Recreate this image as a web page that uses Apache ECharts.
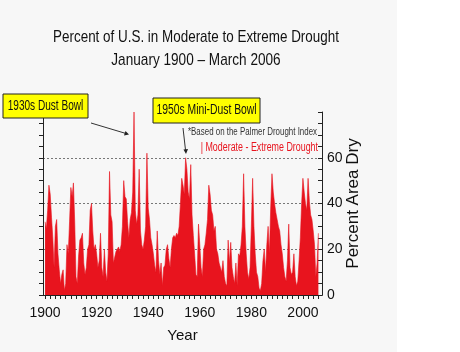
<!DOCTYPE html>
<html><head><meta charset="utf-8">
<script src="https://cdn.jsdelivr.net/npm/echarts@6/dist/echarts.min.js"></script>
<style>html,body{margin:0;padding:0;background:#fff}#c{width:460px;height:352px}</style>
</head><body><div id="c"></div>
<script>
// Percent area in moderate-to-extreme drought, sampled every half year from Jan 1900
const firstYear = 1900;
const stepYears = 0.5;
const pctArea = [
 32,29, 37,48, 44,34, 25,12, 30,33, 18,11, 5,9, 11,2, 5,22, 18,32,
 47,43, 49,32, 8,5, 17,24, 25,27, 14,9, 12,20, 22,37, 40,28, 20,22,
 18,12, 15,27, 12,8, 20,10, 6,18, 54,35, 32,14, 14,19, 20,21, 19,22,
 30,50, 43,42, 32,25, 33,36, 45,80, 37,31, 35,55, 28,22, 20,24, 30,62,
 38,33, 25,22, 18,13, 10,28, 15,9, 14,4, 12,13, 20,22, 16,12, 20,25,
 26,25, 27,26, 30,40, 51,48, 44,60, 55,45, 42,57, 35,26, 18,9, 8,31,
 22,12, 8,20, 22,27, 33,48, 44,37, 35,28, 30,20, 18,14, 12,10, 15,8,
 5,4, 24,14, 23,12, 8,5, 14,4, 18,17, 22,30, 53,30, 18,10, 7,12,
 30,51, 30,18, 10,8, 3,2, 5,15, 20,10, 22,30, 18,38, 53,45, 40,36,
 33,30, 28,22, 18,12, 8,6, 15,31, 12,9, 10,18, 8,4, 6,15, 25,40,
 51,45, 40,37, 51,41, 35,33, 28,22, 8,14, 27
];
const xTickLabels = [1900, 1920, 1940, 1960, 1980, 2000];
const yTickLabels = [0, 20, 40, 60];
const titleLines = ['Percent of U.S. in Moderate to Extreme Drought', 'January 1900 \u2013 March 2006'];

const xMinorTicks = [];
for (let y = 1900; y <= 2006; y += 2) xMinorTicks.push(y);
const seriesData = pctArea.map((v, i) => [firstYear + i * stepYears, v]);

const FONT = "'Liberation Sans',Arial,sans-serif";
const RED = '#e8141e';
const chart = echarts.init(document.getElementById('c'), null, {renderer: 'canvas'});
const axisCommon = {type: 'value', min: 1899.2, max: 2007.4};
function label(text, x, y, size, sx, color, align, z) {
  return {type: 'text', x: x, y: y, scaleX: sx, scaleY: 1, z: z || 10,
    style: {text: text, fill: color, font: size + 'px ' + FONT, textAlign: align, textVerticalAlign: 'middle'}};
}
chart.setOption({
  animation: false,
  backgroundColor: '#ffffff',
  grid: {left: 43, right: 138, top: 112, bottom: 57},
  xAxis: [
    Object.assign({}, axisCommon, {
      position: 'bottom', name: 'Year', nameLocation: 'middle', nameGap: 33,
      nameTextStyle: {fontFamily: FONT, fontSize: 15, color: '#111'},
      axisLine: {lineStyle: {color: '#222', width: 1}},
      axisTick: {show: true, inside: false, length: 4, customValues: xMinorTicks, lineStyle: {color: '#222'}},
      axisLabel: {customValues: xTickLabels, margin: 11, fontFamily: FONT, fontSize: 14, color: '#111',
        formatter: v => String(v)},
      splitLine: {show: false}
    }),
    Object.assign({}, axisCommon, {
      position: 'top',
      axisLine: {lineStyle: {color: '#222', width: 1}},
      axisTick: {show: true, inside: true, length: 4, customValues: xMinorTicks, lineStyle: {color: '#222'}},
      axisLabel: {show: false}, splitLine: {show: false}
    })
  ],
  yAxis: [
    {
      type: 'value', position: 'right', min: 0, max: 80, interval: 20,
      name: 'Percent Area Dry', nameLocation: 'middle', nameGap: 23, nameRotate: 90,
      nameMoveOverlap: false,
      nameTextStyle: {fontFamily: FONT, fontSize: 17, color: '#111'},
      axisLine: {show: true, lineStyle: {color: '#222'}},
      axisTick: {show: true, inside: true, length: 4, lineStyle: {color: '#222'}},
      minorTick: {show: true, splitNumber: 4, length: 4, lineStyle: {color: '#222'}},
      axisLabel: {margin: 5, fontFamily: FONT, fontSize: 14, color: '#111',
        formatter: v => yTickLabels.indexOf(v) >= 0 ? String(v) : ''},
      splitLine: {show: true, showMinLine: false, showMaxLine: false,
        lineStyle: {color: '#777', type: [2, 2], width: 1}}
    },
    {
      type: 'value', position: 'left', min: 0, max: 80, interval: 20,
      axisLine: {show: true, lineStyle: {color: '#222'}},
      axisTick: {show: true, inside: false, length: 4, lineStyle: {color: '#222'}},
      minorTick: {show: true, splitNumber: 4, length: 4, lineStyle: {color: '#222'}},
      axisLabel: {show: false}, splitLine: {show: false}
    }
  ],
  graphic: [
    {type: 'rect', z: -10, silent: true, shape: {x: 0, y: 0, width: 397, height: 352}, style: {fill: '#f7f7f7'}},
    label(titleLines[0], 196, 37, 17, 0.79, '#111', 'center'),
    label(titleLines[1], 196, 60, 17, 0.8, '#111', 'center'),
    label('*Based on the Palmer Drought Index', 317, 132, 11, 0.72, '#333', 'right'),
    label('| Moderate - Extreme Drought', 318, 148, 12, 0.74, RED, 'right'),
    {type: 'rect', z: 20, shape: {x: 3, y: 94, width: 85, height: 24}, style: {fill: '#ffff00', stroke: '#222', lineWidth: 1}},
    label('1930s Dust Bowl', 45.5, 106, 14, 0.72, '#111', 'center', 21),
    {type: 'rect', z: 20, shape: {x: 153, y: 98, width: 107, height: 25}, style: {fill: '#ffff00', stroke: '#222', lineWidth: 1}},
    label('1950s Mini-Dust Bowl', 206.5, 110.5, 14, 0.74, '#111', 'center', 21),
    {type: 'line', z: 15, shape: {x1: 91, y1: 123, x2: 126, y2: 133.5}, style: {stroke: '#333', lineWidth: 1}},
    {type: 'polygon', z: 15, shape: {points: [[129, 134.5], [124, 135.5], [125.5, 131]]}, style: {fill: '#222'}},
    {type: 'line', z: 15, shape: {x1: 183, y1: 128, x2: 185.5, y2: 150}, style: {stroke: '#333', lineWidth: 1}},
    {type: 'polygon', z: 15, shape: {points: [[186, 154], [183.5, 149.5], [188, 149]]}, style: {fill: '#222'}}
  ],
  series: [{
    type: 'line', xAxisIndex: 0, yAxisIndex: 0, data: seriesData, symbol: 'none',
    lineStyle: {color: RED, width: 0.6}, areaStyle: {color: RED, opacity: 1}, z: 2
  }]
});
</script></body></html>
